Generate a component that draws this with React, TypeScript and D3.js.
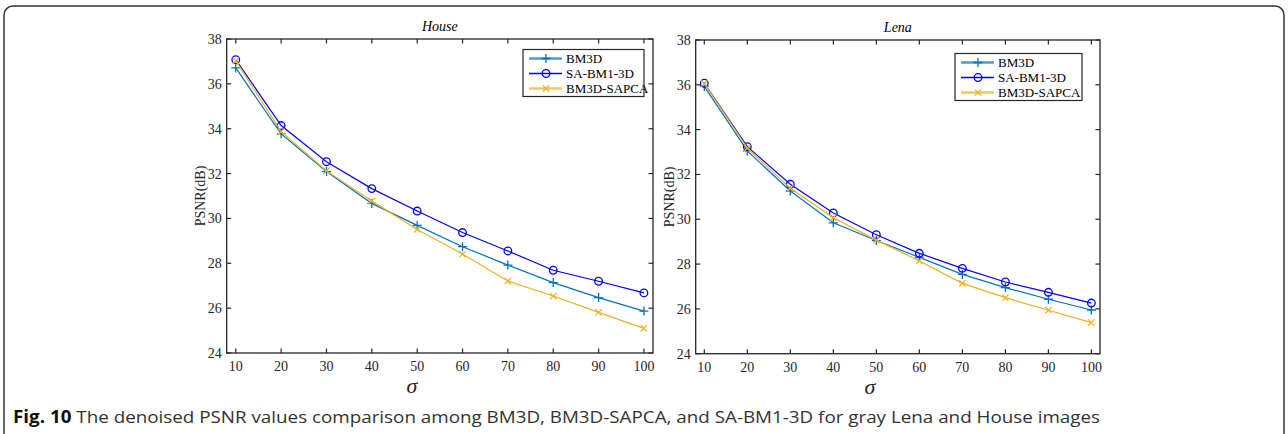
import React from 'react'
import * as d3 from 'd3'

const sigmas = [10, 20, 30, 40, 50, 60, 70, 80, 90, 100]
const seriesNames = ['BM3D', 'SA-BM1-3D', 'BM3D-SAPCA']

const houseBM3D = [36.71, 33.77, 32.09, 30.67, 29.69, 28.74, 27.92, 27.14, 26.47, 25.87]
const houseSA = [37.08, 34.14, 32.53, 31.33, 30.33, 29.37, 28.55, 27.69, 27.2, 26.68]
const houseSAPCA = [37.03, 33.87, 32.12, 30.78, 29.51, 28.41, 27.21, 26.54, 25.81, 25.1]

const lenaBM3D = [35.93, 33.05, 31.26, 29.84, 29.05, 28.3, 27.54, 26.95, 26.43, 25.95]
const lenaSA = [36.07, 33.24, 31.56, 30.28, 29.31, 28.48, 27.81, 27.2, 26.74, 26.26]
const lenaSAPCA = [36.05, 33.18, 31.38, 30.07, 29.07, 28.14, 27.14, 26.5, 25.94, 25.39]

const yTicks = [24, 26, 28, 30, 32, 34, 36, 38]

const colors = ['#0072BD', '#0000FF', '#EDB120']
const serif = '"Liberation Serif", "Times New Roman", serif'
const axisColor = '#262626'

const Marker = ({ kind, x, y, color }: { kind: number; x: number; y: number; color: string }) => {
  if (kind === 0) {
    return (
      <path d={`M${x - 4.5},${y}H${x + 4.5}M${x},${y - 4.5}V${y + 4.5}`} stroke={color} strokeWidth={1.3} />
    )
  }
  if (kind === 1) {
    return <circle cx={x} cy={y} r={3.8} fill="none" stroke={color} strokeWidth={1.3} />
  }
  return (
    <path d={`M${x - 3.2},${y - 3.2}L${x + 3.2},${y + 3.2}M${x - 3.2},${y + 3.2}L${x + 3.2},${y - 3.2}`} stroke={color} strokeWidth={1.2} />
  )
}

type PanelProps = {
  title: string
  left: number
  right: number
  top: number
  bottom: number
  series: number[][]
  legend: { x: number; y: number; w: number; h: number }
}

const Panel = ({ title, left, right, top, bottom, series, legend }: PanelProps) => {
  const x = d3.scaleLinear().domain([8, 102]).range([left, right])
  const y = d3.scaleLinear().domain([24, 38]).range([bottom, top])
  const line = d3
    .line<number>()
    .x((_, i) => x(sigmas[i]))
    .y((d) => y(d))
  const cx = (left + right) / 2
  const cy = (top + bottom) / 2
  const tl = 4.5

  return (
    <g>
      <text x={cx} y={top - 8} textAnchor="middle" fontFamily={serif} fontStyle="italic" fontSize={14} fill="#000">
        {title}
      </text>
      {series.map((vals, k) => (
        <g key={k}>
          <path d={line(vals) || ''} fill="none" stroke={colors[k]} strokeWidth={1.2} />
          {vals.map((v, i) => (
            <Marker key={i} kind={k} x={x(sigmas[i])} y={y(v)} color={colors[k]} />
          ))}
        </g>
      ))}
      <rect x={left} y={top} width={right - left} height={bottom - top} fill="none" stroke={axisColor} strokeWidth={1.3} />
      {sigmas.map((s) => (
        <g key={s}>
          <line x1={x(s)} x2={x(s)} y1={bottom} y2={bottom - tl} stroke={axisColor} strokeWidth={1.2} />
          <line x1={x(s)} x2={x(s)} y1={top} y2={top + tl} stroke={axisColor} strokeWidth={1.2} />
          <text x={x(s)} y={bottom + 18} textAnchor="middle" fontFamily={serif} fontSize={14} fill="#262626">
            {s}
          </text>
        </g>
      ))}
      {yTicks.map((t) => (
        <g key={t}>
          <line x1={left} x2={left + tl} y1={y(t)} y2={y(t)} stroke={axisColor} strokeWidth={1.2} />
          <line x1={right} x2={right - tl} y1={y(t)} y2={y(t)} stroke={axisColor} strokeWidth={1.2} />
          <text x={left - 5} y={y(t) + 5} textAnchor="end" fontFamily={serif} fontSize={14} fill="#262626">
            {t}
          </text>
        </g>
      ))}
      <text
        transform={`translate(${left - 22},${cy}) rotate(-90)`}
        textAnchor="middle"
        fontFamily={serif}
        fontSize={14}
        fill="#262626"
      >
        PSNR(dB)
      </text>
      <text x={cx - 28} y={bottom + 40} textAnchor="middle" fontFamily={serif} fontStyle="italic" fontSize={22} fill="#262626">
        σ
      </text>
      <g>
        <rect x={legend.x} y={legend.y} width={legend.w} height={legend.h} fill="#fff" stroke={axisColor} strokeWidth={1.2} />
        {seriesNames.map((name, k) => {
          const ly = legend.y + 9 + k * 15
          return (
            <g key={name}>
              <line x1={legend.x + 6} x2={legend.x + 39} y1={ly} y2={ly} stroke={colors[k]} strokeWidth={k === 1 ? 1.3 : 2.4} opacity={k === 1 ? 1 : 0.7} />
              <Marker kind={k} x={legend.x + 23} y={ly} color={colors[k]} />
              <text x={legend.x + 43} y={ly + 4.5} fontFamily={serif} fontSize={13} fill="#000">
                {name}
              </text>
            </g>
          )
        })}
      </g>
    </g>
  )
}

export default function App() {
  return (
    <svg width={1288} height={434} style={{ position: 'absolute', left: 0, top: 0, background: '#fff' }}>
      <rect x={4} y={6} width={1280} height={460} rx={9} fill="#fff" stroke="#333" strokeWidth={1.5} />
      <Panel
        title="House"
        left={226.7}
        right={653}
        top={39}
        bottom={353}
        series={[houseBM3D, houseSA, houseSAPCA]}
        legend={{ x: 523, y: 49.5, w: 121, h: 47 }}
      />
      <Panel
        title="Lena"
        left={695.7}
        right={1100}
        top={40}
        bottom={353.7}
        series={[lenaBM3D, lenaSA, lenaSAPCA]}
        legend={{ x: 955, y: 53.5, w: 127, h: 47 }}
      />
      <text x={13} y={423} fontFamily='"Open Sans", "Liberation Sans", sans-serif' fontSize={17} fill="#333" textLength={1087} lengthAdjust="spacingAndGlyphs">
        <tspan fontWeight="bold" fill="#111">Fig. 10</tspan>
        <tspan> The denoised PSNR values comparison among BM3D, BM3D-SAPCA, and SA-BM1-3D for gray Lena and House images</tspan>
      </text>
    </svg>
  )
}
